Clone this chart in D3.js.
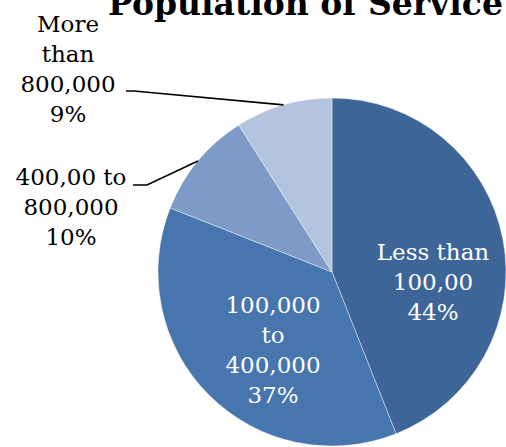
<!DOCTYPE html>
<html>
<head>
<meta charset="utf-8">
<script src="https://cdn.jsdelivr.net/npm/d3@7"></script>
<style>
  html, body { margin: 0; padding: 0; background: #fff; overflow: hidden; }
  svg { display: block; }
</style>
</head>
<body>
<svg id="chart" width="506" height="447"></svg>
<script>
// Population ranges of the service areas and their shares (percent)
const categories = ["Less than\n100,00", "100,000\nto\n400,000", "400,00 to\n800,000", "More\nthan\n800,000"];
const shares = [44, 37, 10, 9];
const sliceColors = ["#3e6597", "#4775ad", "#7e9bc7", "#b4c3de"];
const title = "Population of Service Area";

const W = 506, H = 447;
const cx = 332, cy = 272, R = 174;
const serif = "Georgia, 'DejaVu Serif', serif";
const fontSize = 23, lineH = 30;

const svg = d3.select("#chart");

svg.append("text")
  .attr("x", 108).attr("y", 15)
  .attr("font-family", serif)
  .attr("font-weight", "bold")
  .attr("font-size", 33)
  .attr("fill", "#000")
  .text(title);

const data = categories.map((c, i) => ({ label: c, value: shares[i], color: sliceColors[i] }));

const pie = d3.pie().sort(null).value(d => d.value).startAngle(0).endAngle(2 * Math.PI);
const arcs = pie(data);
const arc = d3.arc().innerRadius(0).outerRadius(R);
const rim = d3.arc().innerRadius(R).outerRadius(R);

const g = svg.append("g").attr("transform", `translate(${cx},${cy})`);

g.selectAll("path.slice")
  .data(arcs)
  .enter().append("path")
  .attr("class", "slice")
  .attr("d", arc)
  .attr("fill", d => d.data.color)
  .attr("stroke", "#ffffff")
  .attr("stroke-opacity", 0.5)
  .attr("stroke-width", 0.8);

// Label placement: inside labels are white, outside labels get leader lines
const labelLayout = [
  { x: 433, y: 260, inside: true },
  { x: 273, y: 313, inside: true },
  { x: 71, y: 185, inside: false, lead: [133, 147] },
  { x: 68, y: 32, inside: false, lead: [126, 134] }
];

arcs.forEach((a, i) => {
  const L = labelLayout[i];
  const lines = a.data.label.split("\n").concat([a.data.value + "%"]);
  const t = svg.append("text")
    .attr("font-family", serif)
    .attr("font-size", fontSize)
    .attr("text-anchor", "middle")
    .attr("fill", L.inside ? "#ffffff" : "#000000");
  lines.forEach((ln, k) => {
    t.append("tspan").attr("x", L.x).attr("y", L.y + k * lineH).text(ln);
  });
  if (!L.inside) {
    const [ex, ey] = rim.centroid(a);
    const ly = L.y + (i === 3 ? 2 * lineH - 1 : 0);
    svg.append("polyline")
      .attr("points", `${L.lead[0]},${ly} ${L.lead[1]},${ly} ${cx + ex},${cy + ey}`)
      .attr("fill", "none")
      .attr("stroke", "#000")
      .attr("stroke-width", 1.6);
  }
});
</script>
</body>
</html>
